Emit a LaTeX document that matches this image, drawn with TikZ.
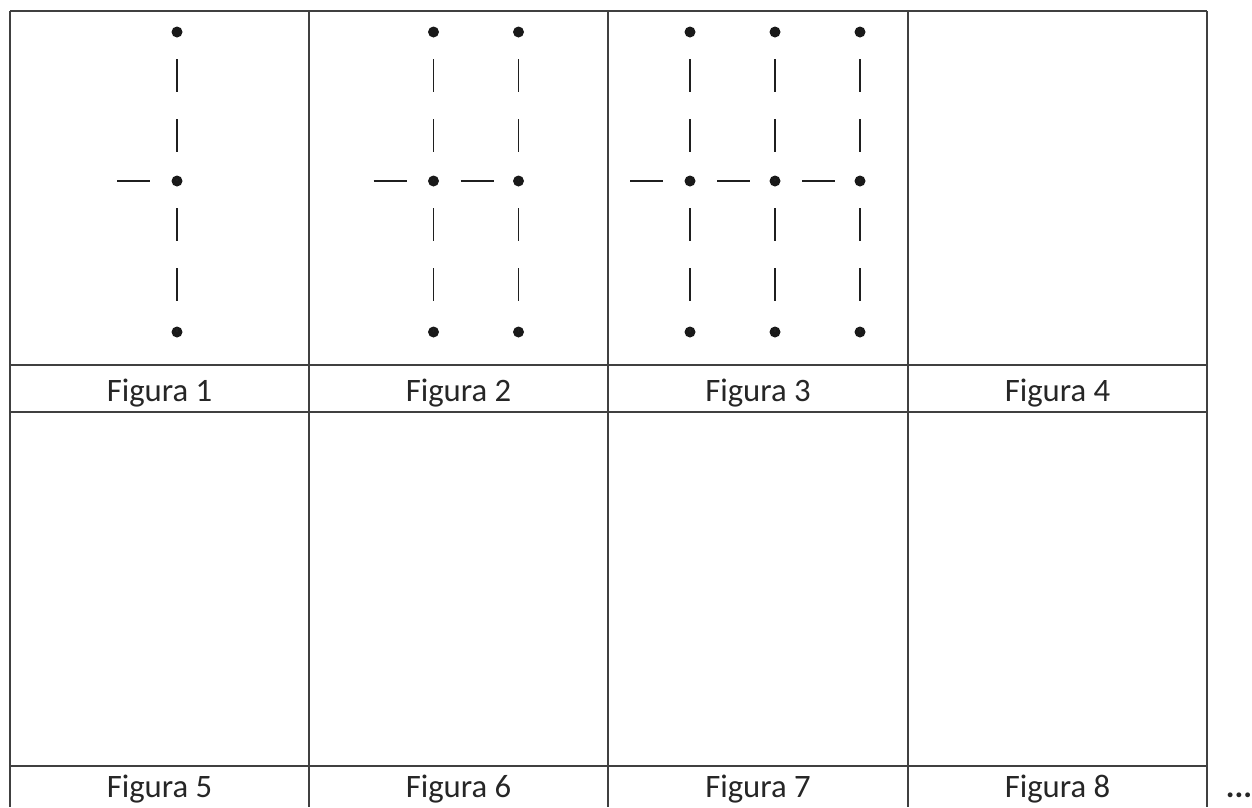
\documentclass[tikz,border=0pt]{standalone}
\usepackage{fontspec}
\setmainfont{Carlito}

\begin{document}
\begin{tikzpicture}[x=1pt, y=-1pt,
  grid/.style={draw=black!75, line width=1.1pt},
  dot/.style={circle, fill=black!90, inner sep=0pt, minimum size=11pt},
  stroke/.style={line width=1.8pt, black!88, dash pattern=on 33pt off 27pt, dash phase=33pt},
  figlabel/.style={font=\fontsize{32.7}{36}\selectfont, text=black!85, anchor=base, inner sep=0pt}]
  \useasboundingbox (0,0) rectangle (1252,807);
  % table
  \foreach \x in {10,309,608,908,1207} \draw[grid] (\x,11) -- (\x,807);
  \foreach \y in {11,365,412,766} \draw[grid] (10,\y) -- (1207,\y);
  % captions
  \foreach \n/\x in {1/159.5, 2/458.5, 3/758, 4/1057.5}
    \node[figlabel] (cap\n) at (\x,401) {Figura \n};
  \foreach \n/\x in {5/159.5, 6/458.5, 7/758, 8/1057.5}
    \node[figlabel] (cap\n) at (\x,797) {Figura \n};
  \node[figlabel, font=\fontsize{32.7}{36}\selectfont\bfseries] (more) at (1239,797) {...};
  % dots and vertical strokes
  \foreach \k/\l in {1/10, 2/309, 3/608} {
    \foreach \j in {1,...,\k} {
      \pgfmathsetmacro\px{\l+167-42.5*(\k-1)+85*(\j-1)}
      \node[dot] (d\k-\j-t) at (\px,32) {};
      \node[dot] (d\k-\j-m) at (\px,181) {};
      \node[dot] (d\k-\j-b) at (\px,332) {};
      \draw[stroke] (d\k-\j-t.center) -- (d\k-\j-m.center);
      \draw[stroke] (d\k-\j-m.center) -- (d\k-\j-b.center);
    }
    % left stub
    \coordinate (s\k) at ([xshift=-60pt]d\k-1-m.center);
    \draw[stroke, dash phase=0pt] (s\k) -- (d\k-1-m.center);
  }
  % horizontal strokes between dots
  \foreach \k/\j in {2/1, 3/1, 3/2} {
    \pgfmathtruncatemacro\jj{\j+1}
    \draw[stroke] (d\k-\j-m.center) -- (d\k-\jj-m.center);
  }
\end{tikzpicture}
\end{document}
